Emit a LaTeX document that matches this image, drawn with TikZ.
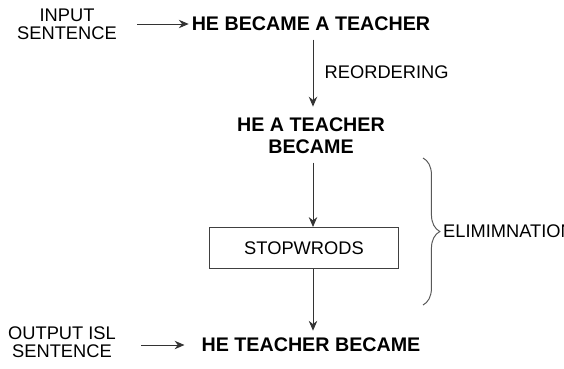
\documentclass[tikz,border=0pt]{standalone}
\usepackage{fontspec}
\setmainfont{Liberation Sans}
\usetikzlibrary{arrows.meta,decorations.pathreplacing}

\begin{document}
\begin{tikzpicture}[x=0.025cm, y=-0.025cm, >={Stealth[length=7pt,width=6pt]},
    every node/.style={font=\fontsize{13}{13}\selectfont, align=center, inner sep=1pt},
    sent/.style={font=\fontsize{14}{15.5}\selectfont\bfseries},
    flow/.style={->, draw=black!80, line width=0.7pt}]
    \useasboundingbox (0,0) rectangle (564,368);
    % Define nodes
    \node (in) at (67,24) {INPUT\\SENTENCE};
    \node (s1) at (311,24) [sent] {HE BECAME A TEACHER};
    \node (s2) at (311,136) [sent] {HE A TEACHER\\BECAME};
    \node (stop) at (304,248) [rectangle, draw=black!75, line width=0.7pt, minimum width=4.7cm, minimum height=1.025cm] {STOPWRODS};
    \node (out) at (62,342) {OUTPUT ISL\\SENTENCE};
    \node (s3) at (311,345) [sent] {HE TEACHER BECAME};
    \node (reord) at (323,72) [anchor=west] {REORDERING};
    \coordinate (inarr) at (137,24);
    \coordinate (outarr) at (141,345);
    \coordinate (bt) at (423,158);
    \coordinate (bb) at (423,305);

    % Draw arrows
    \draw[flow, shorten >=1pt] (inarr) -- (s1.west);
    \draw[flow, shorten <=5pt, shorten >=7pt] (s1.south -| 313,0) -- (s2.north -| 313,0);
    \draw[flow, shorten <=5pt] (s2.south -| 313,0) -- (stop.north -| 313,0);
    \draw[flow, shorten >=4pt] (stop.south -| 313,0) -- (s3.north -| 313,0);
    \draw[flow, shorten >=11pt] (outarr) -- (s3.west);

    % Brace for the elimination step
    \draw[black!65, line width=0.7pt, decorate, decoration={brace, amplitude=12pt}] (bt) -- (bb)
        node [midway, right=13pt, text=black] {ELIMIMNATION};
\end{tikzpicture}
\end{document}
